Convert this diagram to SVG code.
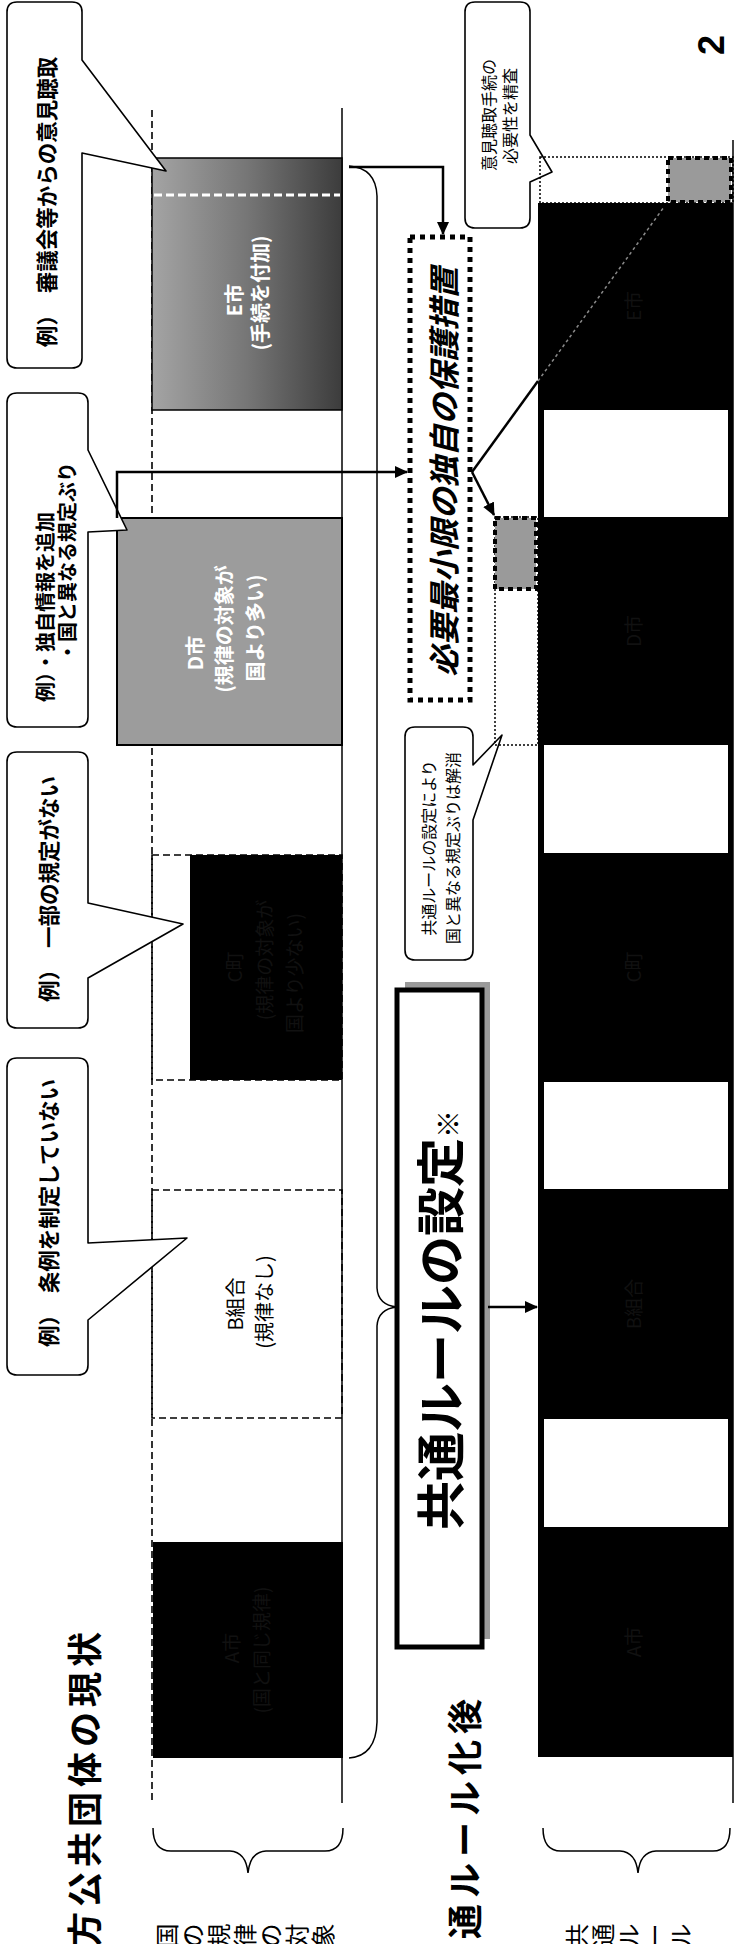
<svg xmlns="http://www.w3.org/2000/svg" width="735" height="1944" viewBox="0 0 735 1944">
<style>
text{font-family:"Noto Sans CJK JP","Noto Sans CJK SC",sans-serif;}
.c{text-anchor:middle;dominant-baseline:central;}
.s{dominant-baseline:central;}
.b{font-weight:700;}
.co{fill:#fff;stroke:#000;stroke-width:1.6;stroke-linejoin:round;}
.ln{fill:none;stroke:#000;stroke-width:2.5;}
.thin{fill:none;stroke:#000;stroke-width:1.5;}
.dash{fill:none;stroke:#000;stroke-width:1.6;stroke-dasharray:7 4;}
.dot{fill:none;stroke:#000;stroke-width:1.5;stroke-dasharray:2 2;}
.ghost{fill:#111;font-size:19px;}
.wt{fill:#fff;font-size:20px;font-weight:700;}
</style>
<defs>
<linearGradient id="gE" x1="0" y1="0" x2="1" y2="0">
<stop offset="0" stop-color="#a4a4a4"/>
<stop offset="0.5" stop-color="#767676"/>
<stop offset="1" stop-color="#3c3c3c"/>
</linearGradient>
<marker id="ah" markerUnits="userSpaceOnUse" markerWidth="14" markerHeight="14" refX="12" refY="6" orient="auto">
<path d="M0,0 L13,6 L0,12 Z" fill="#000"/>
</marker>
</defs>

<!-- titles -->
<g id="title-current">
<text class="b" font-size="35" letter-spacing="5" text-anchor="end" dominant-baseline="central" transform="translate(82,1627) rotate(-90)">方公共団体の現状</text>
</g>
<g id="title-after">
<text class="b" font-size="35" letter-spacing="6" text-anchor="end" dominant-baseline="central" transform="translate(462,1693) rotate(-90)">通ルール化後</text>
</g>
<g id="page-number">
<text font-weight="700" font-size="36" text-anchor="middle" transform="translate(724,45) rotate(-90)" style="font-family:'Liberation Sans',sans-serif">2</text>
</g>

<!-- upper section guides -->
<g id="scope-lines">
<line x1="152" y1="110" x2="152" y2="1803" class="dash"/>
<line x1="342" y1="108" x2="342" y2="1803" class="thin"/>
</g>

<!-- upper entities -->
<g id="E-city">
<rect x="152" y="158" width="190" height="252" fill="url(#gE)" stroke="#000" stroke-width="1.5"/>
<line x1="154" y1="195" x2="340" y2="195" stroke="#fff" stroke-width="3" stroke-dasharray="8 4"/>
<text class="c wt" transform="translate(233,300) rotate(-90)">E市</text>
<text class="c wt" transform="translate(259,293) rotate(-90)">(手続を付加)</text>
</g>
<g id="D-city">
<rect x="117" y="518" width="225" height="227" fill="#9c9c9c" stroke="#000" stroke-width="2"/>
<text class="c wt" transform="translate(194,653) rotate(-90)">D市</text>
<text class="c wt" transform="translate(223,629) rotate(-90)">(規律の対象が</text>
<text class="c wt" transform="translate(254,628) rotate(-90)">国より多い)</text>
</g>
<g id="C-town">
<rect x="152" y="855" width="190" height="225" class="dash"/>
<rect x="190" y="855" width="152" height="225" fill="#000"/>
<text class="c ghost" transform="translate(233,967) rotate(-90)">C町</text>
<text class="c ghost" transform="translate(263,960) rotate(-90)">(規律の対象が</text>
<text class="c ghost" transform="translate(293,973) rotate(-90)">国より少ない)</text>
</g>
<g id="B-union">
<rect x="152" y="1190" width="190" height="228" class="dash"/>
<text class="c" font-size="20" transform="translate(234,1304) rotate(-90)">B組合</text>
<text class="c" font-size="20" transform="translate(263,1302) rotate(-90)">(規律なし)</text>
</g>
<g id="A-city">
<rect x="153" y="1542" width="190" height="216" fill="#000"/>
<text class="c ghost" transform="translate(230,1648) rotate(-90)">A市</text>
<text class="c ghost" transform="translate(260,1650) rotate(-90)">(国と同じ規律)</text>
</g>

<!-- callouts upper -->
<g id="callout-E">
<path class="co" d="M17,2 H72 Q82,2 82,12 V60 L166,171 L82,153 V358 Q82,368 72,368 H17 Q7,368 7,358 V12 Q7,2 17,2 Z"/>
<text class="c b" font-size="21.5" transform="translate(45,202) rotate(-90)">例）　審議会等からの意見聴取</text>
</g>
<g id="callout-D">
<path class="co" d="M17,393 H78 Q88,393 88,403 V450 L127,530 L88,532 V717 Q88,727 78,727 H17 Q7,727 7,717 V403 Q7,393 17,393 Z"/>
<text class="s b" font-size="20" transform="translate(44,702) rotate(-90)">例）・独自情報を追加</text>
<text class="s b" font-size="20" transform="translate(66,662) rotate(-90)">・国と異なる規定ぶり</text>
</g>
<g id="callout-C">
<path class="co" d="M17,752 H78 Q88,752 88,762 V903 L183,924 L88,978 V1018 Q88,1028 78,1028 H17 Q7,1028 7,1018 V762 Q7,752 17,752 Z"/>
<text class="c b" font-size="21.5" transform="translate(47.5,889) rotate(-90)">例）　一部の規定がない</text>
</g>
<g id="callout-B">
<path class="co" d="M17,1058 H78 Q88,1058 88,1068 V1243 L187,1238 L88,1320 V1365 Q88,1375 78,1375 H17 Q7,1375 7,1365 V1068 Q7,1058 17,1058 Z"/>
<text class="c b" font-size="21.5" transform="translate(47.5,1213) rotate(-90)">例）　条例を制定していない</text>
</g>

<!-- scope label -->
<g id="label-national">
<path class="thin" d="M153,1828 Q153,1851 171,1851 L230,1851 Q246,1852 248,1873 Q250,1852 266,1851 L325,1851 Q343,1851 343,1828"/>
<text font-size="24" rotate="-90" letter-spacing="2" dominant-baseline="central" x="176" y="1937">国の規律の対象</text>
</g>

<!-- big brace -->
<g id="brace-main">
<path class="thin" d="M349,166 Q376,168 377,196 L377,1288 Q378,1305 397,1307 Q378,1309 377,1326 L377,1722 Q376,1756 349,1758"/>
</g>

<!-- common rule box -->
<g id="common-rule-setting">
<rect x="405" y="982" width="85" height="657" fill="#9a9a9a"/>
<rect x="397" y="990" width="85" height="657" fill="#fff" stroke="#000" stroke-width="5"/>
<text class="b" font-size="49" transform="translate(459,1530) rotate(-90)">共通ルールの設定<tspan font-size="28">※</tspan></text>
</g>

<!-- minimum protection box -->
<g id="minimum-protection">
<rect x="410" y="237" width="60" height="463" fill="#fff" stroke="#000" stroke-width="5" stroke-dasharray="5 5"/>
<text class="c b" font-size="31.5" font-style="italic" transform="translate(442,472) rotate(-90)">必要最小限の独自の保護措置</text>
</g>

<!-- callouts lower -->
<g id="callout-review">
<path class="co" d="M475,2 H520 Q530,2 530,12 V135 L552,172 L530,182 V218 Q530,228 520,228 H475 Q465,228 465,218 V12 Q465,2 475,2 Z"/>
<text class="c" font-size="16" transform="translate(488,115) rotate(-90)">意見聴取手続の</text>
<text class="c" font-size="16" transform="translate(509,116) rotate(-90)">必要性を精査</text>
</g>
<g id="callout-resolved">
<path class="co" d="M415,727 H463 Q473,727 473,737 V765 L502,735 L473,820 V950 Q473,960 463,960 H415 Q405,960 405,950 V737 Q405,727 415,727 Z"/>
<text class="c" font-size="16" transform="translate(428,848) rotate(-90)">共通ルールの設定により</text>
<text class="c" font-size="16" transform="translate(452,848) rotate(-90)">国と異なる規定ぶりは解消</text>
</g>

<!-- common rule column -->
<g id="common-rule-column">
<line x1="733" y1="140" x2="733" y2="1803" class="thin"/>
<rect x="538" y="203" width="195" height="1554" fill="#000"/>
<rect x="544" y="410" width="184" height="107" fill="#fff"/>
<rect x="544" y="745" width="184" height="108" fill="#fff"/>
<rect x="544" y="1082" width="184" height="107" fill="#fff"/>
<rect x="544" y="1419" width="184" height="108" fill="#fff"/>
<text class="c ghost" transform="translate(632,306) rotate(-90)">E市</text>
<text class="c ghost" transform="translate(632,631) rotate(-90)">D市</text>
<text class="c ghost" transform="translate(632,967) rotate(-90)">C町</text>
<text class="c ghost" transform="translate(632,1304) rotate(-90)">B組合</text>
<text class="c ghost" transform="translate(632,1642) rotate(-90)">A市</text>
</g>
<g id="ghost-E">
<rect x="540" y="157" width="193" height="46" class="dot"/>
<rect x="668" y="158" width="63" height="44" fill="#9a9a9a" stroke="#000" stroke-width="4" stroke-dasharray="5 4"/>
</g>
<g id="ghost-D">
<rect x="495" y="517" width="43" height="228" class="dot"/>
<rect x="495" y="518" width="41" height="71" fill="#9a9a9a" stroke="#000" stroke-width="4" stroke-dasharray="5 4"/>
</g>

<g id="label-common">
<path class="thin" d="M543,1828 Q543,1851 561,1851 L620,1851 Q636,1852 638,1873 Q640,1852 656,1851 L713,1851 Q730,1851 730,1828"/>
<text font-size="24" rotate="-90" letter-spacing="2" dominant-baseline="central" x="586" y="1937">共通ルール</text>
</g>

<!-- connectors -->
<g id="connectors">
<path class="ln" d="M349,167 H443 V234" marker-end="url(#ah)"/>
<path class="ln" d="M117,518 V472 H407" marker-end="url(#ah)"/>
<path class="ln" d="M488,1307 H537" marker-end="url(#ah)"/>
<path class="ln" d="M472,472 L494,515" marker-end="url(#ah)"/>
<path class="ln" d="M472,472 L538,381"/>
<path d="M538,381 L664,207" fill="none" stroke="#8a8a8a" stroke-width="1.5" stroke-dasharray="3 3"/>
</g>
</svg>
